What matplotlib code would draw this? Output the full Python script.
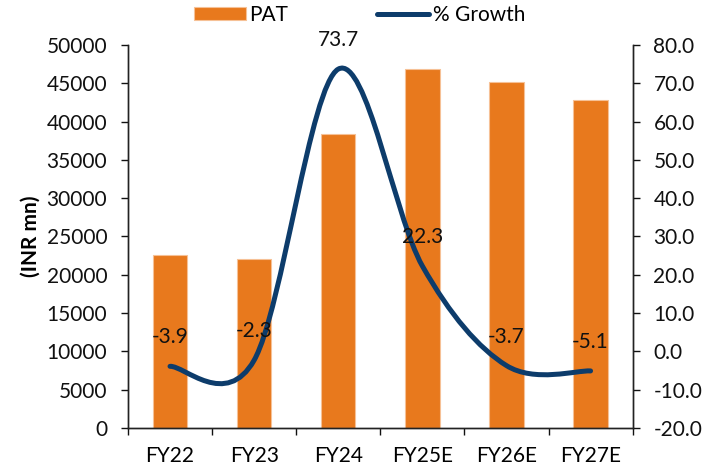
import numpy as np
import matplotlib
matplotlib.use("Agg")
import matplotlib.pyplot as plt
from matplotlib.path import Path
from matplotlib.patches import PathPatch, Patch
from matplotlib.lines import Line2D

categories = ["FY22", "FY23", "FY24", "FY25E", "FY26E", "FY27E"]
pat = [22600, 22080, 38350, 46900, 45160, 42860]
growth = [-3.9, -2.3, 73.7, 22.3, -3.7, -5.1]
growth_labels = ["-3.9", "-2.3", "73.7", "22.3", "-3.7", "-5.1"]

BAR_COLOR = "#E8791D"
BAR_EDGE = "#F6C196"
LINE_COLOR = "#0D3C6B"
FS = 15

plt.rcParams['font.family'] = ['Lato', 'DejaVu Sans']
plt.rcParams['font.size'] = FS

fig = plt.figure(figsize=(7.23, 4.72), dpi=100)
ax = fig.add_axes([0.177, 0.0932, 0.698, 0.8115])
ax2 = ax.twinx()

x = np.arange(len(categories))
ax.bar(x, pat, width=0.41, color=BAR_COLOR, edgecolor=BAR_EDGE, linewidth=0.8, zorder=2)

ax.set_ylim(0, 50000)
ax.set_yticks(np.arange(0, 50001, 5000))
ax.set_xlim(-0.5, len(categories) - 0.5)
ax.set_xticks(np.arange(-0.5, len(categories), 1.0))
ax.set_xticklabels([])
ax.set_xticks(x, minor=True)
ax.set_xticklabels(categories, minor=True)
ax.tick_params(axis='x', which='major', direction='out', length=5, width=1)
ax.tick_params(axis='x', which='minor', length=0, pad=13)
ax.tick_params(axis='y', direction='out', length=5, width=1, pad=10)
ax.set_ylabel("(INR mn)", fontweight='bold', labelpad=4)

# Smoothed line (Excel-style Bezier smoothing through data points)
px = list(x.astype(float))
py = list(growth)
n = len(px)
verts = [(px[0], py[0])]
codes = [Path.MOVETO]
for i in range(n - 1):
    i0 = max(i - 1, 0)
    i3 = min(i + 2, n - 1)
    c1 = (px[i] + (px[i + 1] - px[i0]) / 6.0, py[i] + (py[i + 1] - py[i0]) / 6.0)
    c2 = (px[i + 1] - (px[i3] - px[i]) / 6.0, py[i + 1] - (py[i3] - py[i]) / 6.0)
    verts += [c1, c2, (px[i + 1], py[i + 1])]
    codes += [Path.CURVE4, Path.CURVE4, Path.CURVE4]
path = Path(verts, codes)
ax2.add_patch(PathPatch(path, facecolor='none', edgecolor=LINE_COLOR, lw=3.6,
                        capstyle='round', joinstyle='round', zorder=3))

ax2.set_ylim(-20, 80)
ax2.set_yticks(np.arange(-20, 81, 10))
ax2.yaxis.set_major_formatter(matplotlib.ticker.FormatStrFormatter('%.1f'))
ax2.tick_params(axis='y', direction='out', length=5, width=1, pad=10)

for xi, yi, lab in zip(x, growth, growth_labels):
    ax2.annotate(lab, (xi, yi), xytext=(0, 29), textcoords='offset pixels',
                 ha='center', va='center', fontsize=FS, color='#111111', zorder=4)

for a in (ax, ax2):
    a.spines['top'].set_visible(False)
    for s in ('left', 'right', 'bottom'):
        a.spines[s].set_color('#222222')
        a.spines[s].set_linewidth(1)
    a.tick_params(colors='#111111')

handles = [Patch(facecolor=BAR_COLOR, edgecolor=BAR_EDGE, linewidth=0.8),
           Line2D([0], [0], color=LINE_COLOR, lw=3.6, solid_capstyle='round')]
fig.legend(handles, ["PAT", "% Growth"], loc='center', bbox_to_anchor=(0.497, 0.968),
           ncol=2, frameon=False, handlelength=2.5, handleheight=0.6,
           columnspacing=4.3, handletextpad=0.15, fontsize=FS)

fig.savefig("out.png", dpi=100)
